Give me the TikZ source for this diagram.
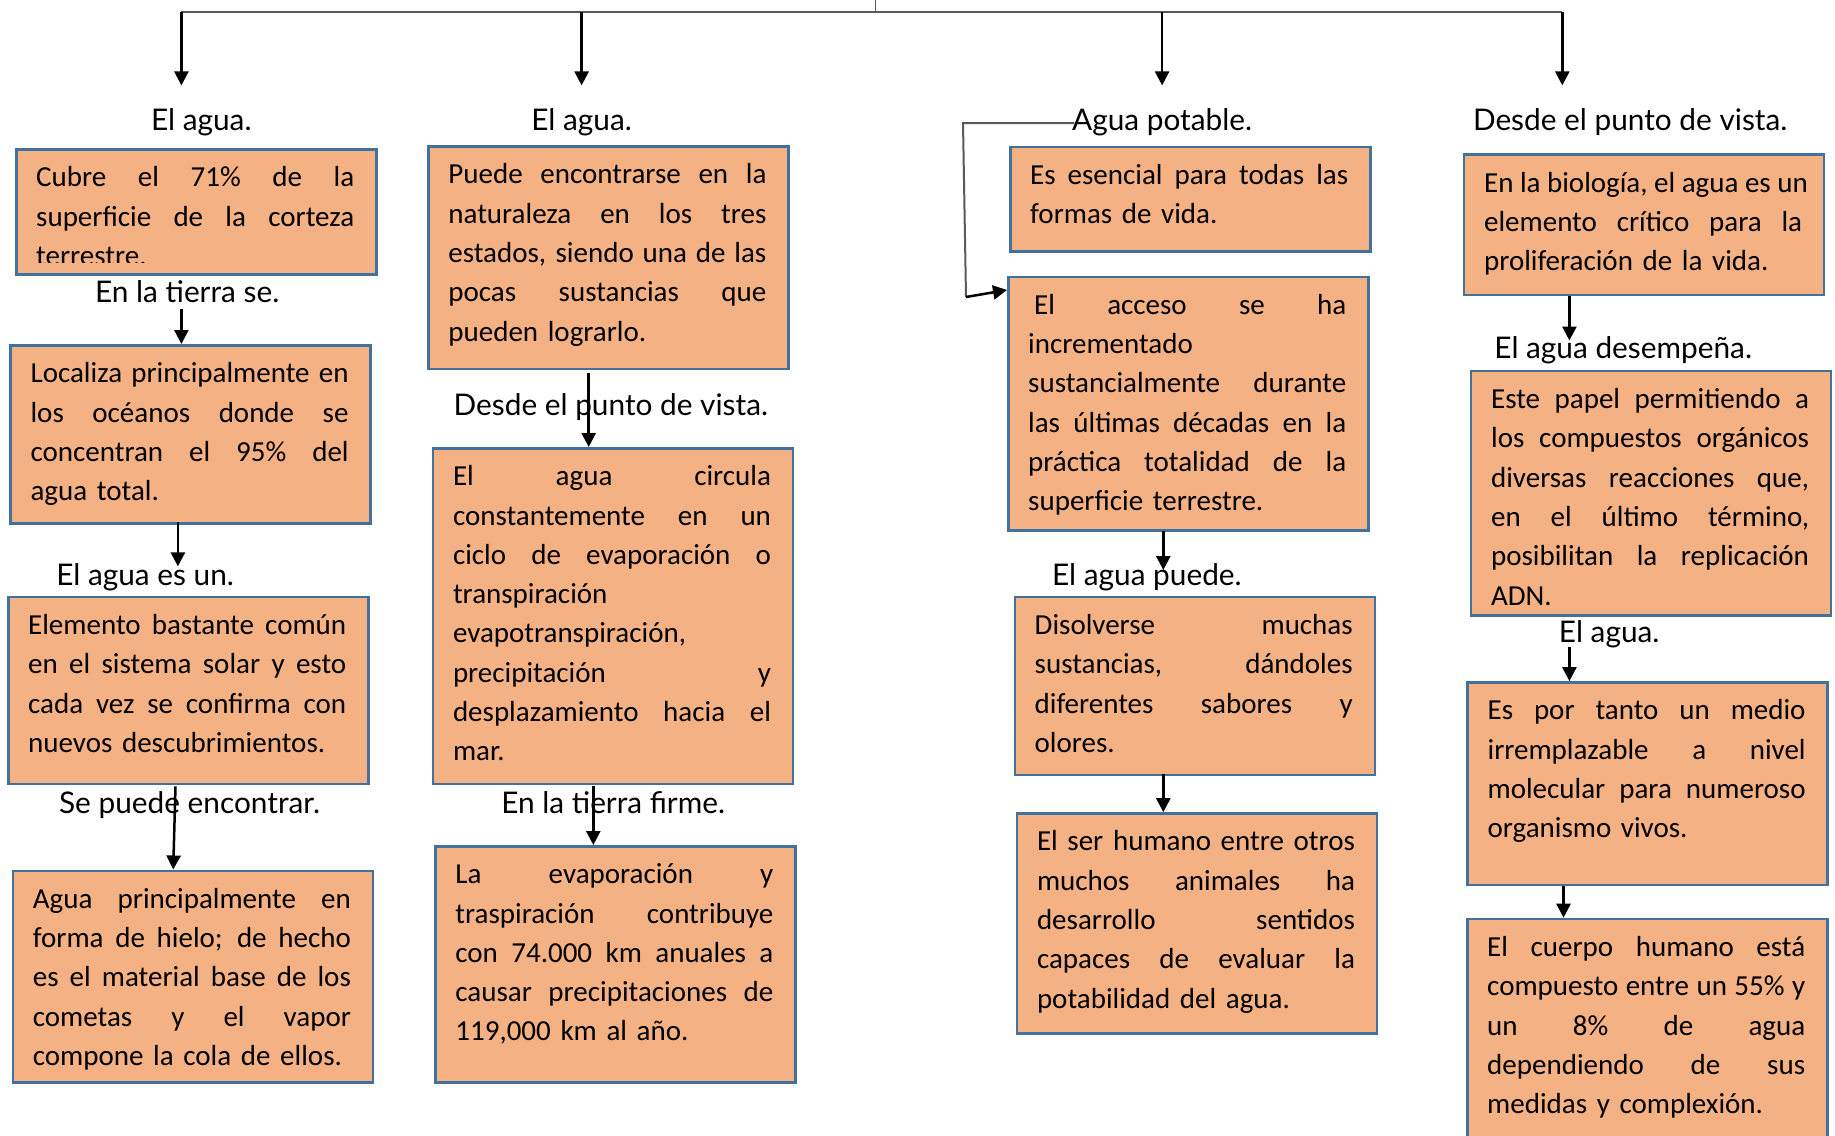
\documentclass[tikz,border=0pt]{standalone}
\usepackage{fontspec}
\setmainfont{Carlito}
\newfontfamily\labfont{Lato}
\usetikzlibrary{arrows.meta}
\definecolor{boxfill}{HTML}{F4B183}
\definecolor{boxline}{HTML}{41719C}
\definecolor{linegray}{HTML}{595959}
\newcommand\J[1]{\leavevmode\hbox to 318pt{\spaceskip=0.226em plus 1fil\relax #1}}
\newcommand\fstrut{\rule{0pt}{24pt}}
\newcommand\tb[5]{%
  \node[box, minimum height=#4pt] (#1) at (#2,#3) {};
  \node[txt] (#1t) at (#2+21,#3+14.5) {\fstrut#5};}
\begin{document}
\begin{tikzpicture}[x=1pt,y=-1pt,
  box/.style={draw=boxline, line width=2.5pt, fill=boxfill, minimum width=360pt, inner sep=0pt, anchor=north west},
  txt/.style={anchor=north west, inner sep=0pt, text width=318pt, align=left, font=\fontsize{29}{39.3}\selectfont},
  lab/.style={anchor=base, inner sep=0pt, font=\labfont\fontsize{29.8}{34}\selectfont},
  arr/.style={draw=black, line width=2.5pt, -{Triangle[length=14pt,width=14pt]}},
  gline/.style={draw=linegray, line width=2pt}]
\useasboundingbox (0,0) rectangle (1835,1135);
\clip (0,0) rectangle (1835,1135);

% ---------- boxes ----------
\node[box, minimum height=125pt] (b1) at (15,148) {};
\begin{scope}
\clip (15,148) rectangle (375,262.5);
\node[txt] (b1t) at (36,162.5) {\fstrut\J{Cubre el 71\% de la}\\\J{superficie de la corteza}\\terrestre.};
\end{scope}
\tb{b2}{9.4}{344}{178}{\J{Localiza principalmente en}\\\J{los océanos donde se}\\\J{concentran el 95\% del}\\agua total.}
\tb{b3}{7}{595.7}{187.2}{\J{Elemento bastante común}\\\J{en el sistema solar y esto}\\\J{cada vez se confirma con}\\nuevos descubrimientos.}
\tb{b4}{11.7}{869.5}{211.9}{\J{Agua principalmente en}\\\J{forma de hielo; de hecho}\\\J{es el material base de los}\\\J{cometas y el vapor}\\compone la cola de ellos.}

\tb{b5}{427.2}{145.1}{222.4}{\J{Puede encontrarse en la}\\\J{naturaleza en los tres}\\\J{estados, siendo una de las}\\\J{pocas sustancias que}\\pueden lograrlo.}
\tb{b6}{431.8}{447}{335.9}{\J{El agua circula}\\\J{constantemente en un}\\\J{ciclo de evaporación o}\\transpiración\\evapotranspiración,\\\J{precipitación y}\\\J{desplazamiento hacia el}\\mar.}
\tb{b7}{434.2}{845}{236.4}{\J{La evaporación y}\\\J{traspiración contribuye}\\\J{con 74.000 km anuales a}\\\J{causar precipitaciones de}\\119,000 km al año.}

\tb{b8}{1009}{145.7}{104.3}{\J{Es esencial para todas las}\\formas de vida.}
\tb{b9}{1007}{275.5}{253.5}{\J{\hspace{6pt}El acceso se ha}\\incrementado\\\J{sustancialmente durante}\\\J{las últimas décadas en la}\\\J{práctica totalidad de la}\\superficie terrestre.}
\tb{b10}{1013.5}{595.7}{177.9}{\J{Disolverse muchas}\\\J{sustancias, dándoles}\\\J{diferentes sabores y}\\olores.}
\tb{b11}{1015.8}{812.2}{220}{\J{El ser humano entre otros}\\\J{muchos animales ha}\\\J{desarrollo sentidos}\\\J{capaces de evaluar la}\\potabilidad del agua.}

\tb{b12}{1462.9}{153.3}{140.4}{\J{En la biología, el agua es un}\\\J{elemento crítico para la}\\proliferación de la vida.}
\tb{b13}{1469.9}{369.8}{244.6}{\J{Este papel permitiendo a}\\\J{los compuestos orgánicos}\\\J{diversas reacciones que,}\\\J{en el último término,}\\\J{posibilitan la replicación}\\ADN.}
\tb{b14}{1466.4}{681.1}{202.5}{\J{Es por tanto un medio}\\\J{irremplazable a nivel}\\\J{molecular para numeroso}\\organismo vivos.}
\tb{b15}{1466}{917.7}{240}{\J{El cuerpo humano está}\\\J{compuesto entre un 55\% y}\\\J{un 8\% de agua}\\\J{dependiendo de sus}\\medidas y complexión.}

% ---------- labels ----------
\node[lab] (l1) at (201.3,130.2) {El agua.};
\node[lab] (l2) at (187.2,302.2) {En la tierra se.};
\node[lab] (l3) at (145.1,585.4) {El agua es un.};
\node[lab] (l4) at (189.6,813.6) {Se puede encontrar.};
\node[lab] (l5) at (581.6,130.2) {El agua.};
\node[lab] (l6) at (610.9,415.7) {Desde el punto de vista.};
\node[lab] (l7) at (613.2,813.6) {En la tierra firme.};
\node[lab] (l8) at (1162.1,130.2) {Agua potable.};
\node[lab] (l9) at (1146.9,585.4) {El agua puede.};
\node[lab] (l10) at (1630.2,130.2) {Desde el punto de vista.};
\node[lab] (l11) at (1623.2,358.4) {El agua desempeña.};
\node[lab] (l12) at (1609.2,642.8) {El agua.};

% ---------- top connector ----------
\coordinate (tl) at (181.4,12);
\coordinate (tr) at (1562.3,12);
\coordinate (tm) at (875.4,12);
\coordinate (tt) at (875.4,0);
\draw[gline] (tl) -- (tr);
\draw[gline, line width=1.2pt] (tm) -- (tt);
\coordinate (e1) at (181.4,85.4);
\coordinate (e2) at (581.6,85.4);
\coordinate (e3) at (1162.1,85.4);
\coordinate (e4) at (1562.3,85.4);
\draw[arr] (tl) -- (e1);
\draw[arr] (tl -| e2) -- (e2);
\draw[arr] (tl -| e3) -- (e3);
\draw[arr] (tr) -- (e4);

% ---------- inner connectors ----------
\coordinate (s1) at (181.4,309);
\draw[arr] (s1) -- (s1 |- b2.north);
\coordinate (s2) at (177.9,522);
\coordinate (f2) at (177.9,566.4);
\draw[arr] (s2) -- (f2);
\coordinate (s3) at (175.5,786.4);
\coordinate (f3) at (173.2,869.5);
\draw[arr] (s3) -- (f3);
\coordinate (s4) at (588.7,372.5);
\draw[arr] (s4) -- (s4 |- b6.north);
\coordinate (s5) at (593.3,786.4);
\draw[arr] (s5) -- (s5 |- b7.north);
\coordinate (g1) at (1074.3,123);
\coordinate (g2) at (963,123);
\coordinate (g3) at (966,297);
\coordinate (g4) at (1007,290);
\draw[gline] (g1) -- (g2) -- (g3);
\draw[arr] (g3) -- (g4);
\coordinate (s7) at (1163.3,531.3);
\coordinate (f7) at (1163.3,570);
\draw[arr] (s7) -- (f7);
\coordinate (s8) at (1163.3,773.6);
\draw[arr] (s8) -- (s8 |- b11.north);
\coordinate (s9) at (1569.4,296.1);
\coordinate (f9) at (1569.4,340.5);
\draw[arr] (s9) -- (f9);
\coordinate (s10) at (1569.4,647.2);
\draw[arr] (s10) -- (s10 |- b14.north);
\coordinate (s11) at (1563.5,885.9);
\draw[arr] (s11) -- (s11 |- b15.north);
\end{tikzpicture}
\end{document}
